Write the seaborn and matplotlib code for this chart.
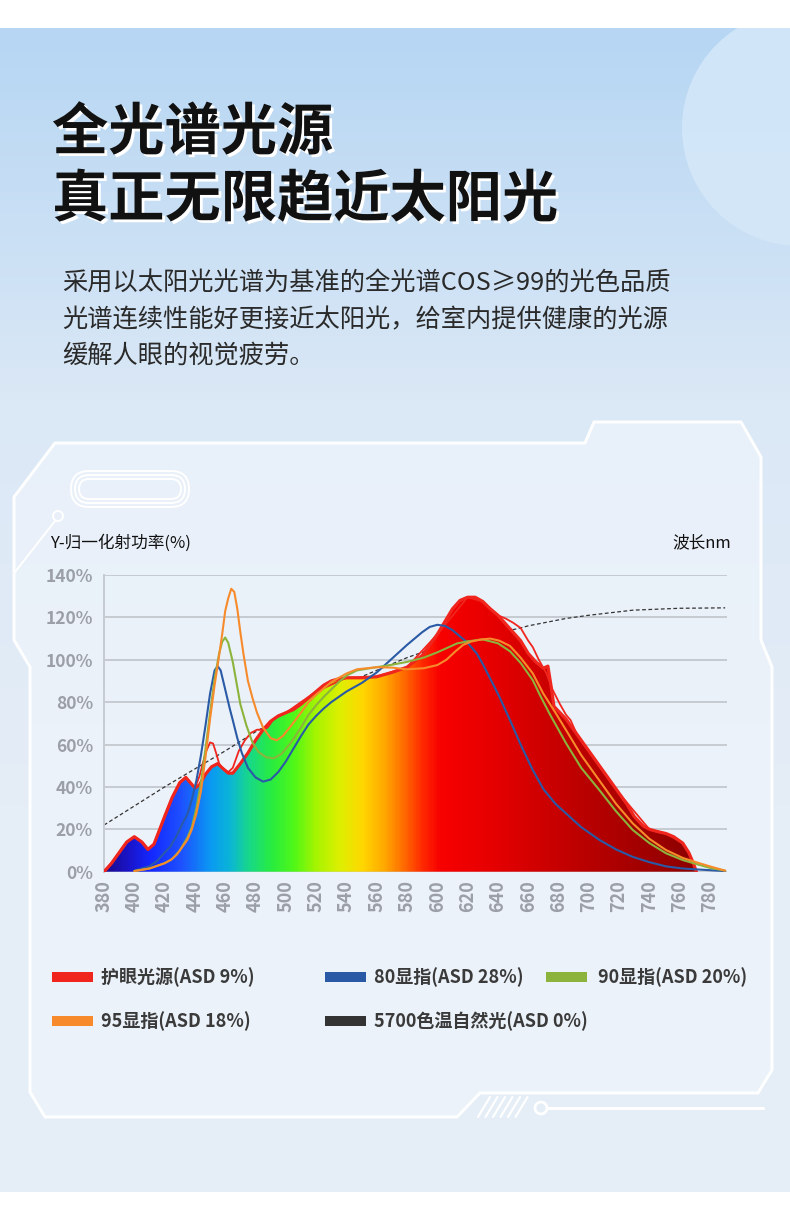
import numpy as np
import pandas as pd
import matplotlib
matplotlib.use("Agg")
import matplotlib.pyplot as plt
import matplotlib.patheffects as pe
import seaborn as sns
from matplotlib.patches import Polygon, Rectangle, Circle, FancyBboxPatch
from matplotlib.colors import LinearSegmentedColormap, to_rgb

# ---------------- data ----------------
title_lines = ["全光谱光源", "真正无限趋近太阳光"]
para_lines = ["采用以太阳光光谱为基准的全光谱COS≥99的光色品质",
              "光谱连续性能好更接近太阳光，给室内提供健康的光源",
              "缓解人眼的视觉疲劳。"]
y_label = "Y-归一化射功率(%)"
x_label = "波长nm"
legend_names = ["护眼光源(ASD 9%)", "80显指(ASD 28%)", "90显指(ASD 20%)",
                "95显指(ASD 18%)", "5700色温自然光(ASD 0%)"]
x_ticks = list(range(380, 781, 20))
y_ticks = list(range(0, 141, 20))

# 护眼光源 (filled spectrum)
eye_wl = [380, 385, 390, 395, 400, 405, 409, 413, 420, 425, 430, 434, 437, 440, 443, 447, 451, 455,
          458, 462, 465, 470, 475, 480, 485, 490, 495, 500, 505, 510, 515, 520, 525, 530, 535, 540,
          550, 560, 570, 580, 590, 595, 600, 605, 610, 615, 620, 625, 630, 635, 640, 645, 650, 655,
          660, 665, 670, 673, 675, 677, 681, 685, 690, 696, 700, 705, 712, 720, 725, 730, 736, 740,
          745, 751, 756, 762, 766, 769, 771]
eye_val = [0, 4, 9, 14, 16.5, 14, 10.5, 13, 26, 35, 42, 44.5, 42, 39.5, 41, 46, 49.5, 51,
           49, 46.5, 46.5, 51, 56, 62, 67, 71, 73.5, 75, 76.5, 79, 82, 85, 88, 90, 91, 91.5,
           91.5, 92, 94, 96.5, 102, 107, 112, 118, 124, 128, 129.5, 129.5, 127.5, 124, 121, 117, 113, 109,
           103, 99, 96, 97, 88, 78, 75, 72, 67, 61, 57, 52, 45, 37, 32, 26, 21.5, 20,
           19, 18, 16.5, 13.5, 9, 4, 0]

# 护眼光源 second (thin) outline
eye2_wl = [380, 385, 390, 395, 400, 405, 409, 413, 420, 425, 430, 434, 437, 440, 443, 447, 450, 452,
           454, 456, 458, 462, 465, 469, 473, 477, 481, 485, 488, 492, 500, 520, 540, 560, 580, 600,
           620, 630, 640, 645, 650, 655, 660, 663, 667, 672, 676, 681, 685, 688, 692, 700, 720, 740,
           751, 762, 766, 769, 771]
eye2_val = [0, 4, 9, 14, 16.5, 14, 10.5, 13, 26, 35, 42, 44.5, 42, 39.5, 45, 56, 61, 60.5,
            56, 51, 49, 47, 49, 57, 62, 65.5, 67, 67, 68, 72, 75, 85, 91.5, 92, 96.5, 112,
            129.5, 127.5, 121, 119.5, 117.5, 115, 109, 106, 100, 93.6, 86, 79, 74, 71.5, 65, 57, 37, 20,
            18, 13.5, 9, 4, 0]

# 80显指
cri80_wl = [400, 410, 415, 420, 424, 428, 432, 435, 438, 441, 444, 447, 450, 453, 455, 457, 460, 463,
            465, 468, 471, 475, 480, 485, 490, 495, 500, 505, 510, 515, 520, 525, 530, 540, 550, 560,
            570, 580, 590, 595, 600, 605, 610, 615, 620, 626, 630, 635, 641, 648, 655, 663, 670, 678,
            685, 695, 707, 718, 729, 740, 751, 762, 773, 790]
cri80_val = [0.5, 2.5, 5, 9, 12, 17, 23, 27, 34, 43, 55, 69, 84, 95, 97, 95, 86, 77,
             71.5, 63, 56, 49, 44.5, 42.5, 43.5, 47, 52, 58, 64, 69.5, 73.5, 77, 80, 85, 89, 94,
             100.5, 107, 113, 115.5, 116.5, 116, 114, 111, 108, 103, 98, 91, 82.5, 71.5, 60, 48, 39, 32,
             27.5, 21, 15, 10.5, 7, 4.5, 2.5, 1.5, 1, 0.3]

# 90显指
cri90_wl = [400, 410, 420, 425, 430, 435, 438, 441, 444, 447, 450, 453, 456, 458, 460, 462, 465, 468,
            470, 474, 478, 482, 487, 492, 497, 503, 510, 515, 520, 525, 530, 535, 540, 547, 560, 569,
            580, 591, 600, 613, 620, 630, 640, 648, 655, 663, 668, 674, 680, 685, 695, 707, 718, 729,
            740, 751, 762, 773, 780, 790]
cri90_val = [0.3, 1.5, 4, 6, 10, 16, 21, 30, 42, 58, 75, 91, 103, 108.5, 110.5, 108, 99, 87,
             79, 69, 61, 56.5, 54, 53.5, 55.5, 60.5, 68, 74, 78.5, 82.5, 86, 89.5, 92.5, 95, 96.5, 97.5,
             99, 101, 103.5, 107.7, 108.7, 109.6, 107.8, 104, 98.5, 90.4, 83, 74.7, 67, 60.6, 49, 38.5, 28.5, 19.7,
             13.5, 8.7, 5.5, 3.2, 1.8, 0.5]

# 95显指
cri95_wl = [400, 410, 420, 424, 428, 432, 435, 438, 441, 444, 447, 450, 453, 456, 458, 460, 462, 464,
            466, 468, 470, 472, 475, 478, 481, 485, 490, 494, 498, 503, 510, 515, 520, 525, 530, 540,
            547, 560, 570, 580, 591, 600, 606, 612, 617, 622, 628, 635, 641, 648, 655, 663, 670, 678,
            685, 695, 707, 718, 729, 740, 751, 762, 773, 780, 790]
cri95_val = [0.3, 1.5, 4, 5.5, 8, 12, 15, 20, 27.5, 38, 54, 72, 88, 102, 112, 123, 129, 133.5,
             132, 124, 113, 103, 90, 82, 75, 68, 63, 62, 64, 68.4, 75, 80, 83.5, 86.5, 89.5, 93.5,
             95.5, 96.5, 96.3, 95.5, 96, 97.5, 100, 104, 107, 108.5, 109.5, 110, 109, 106.5, 101, 93.6, 84, 75,
             66.8, 55, 43, 32, 22.8, 15.5, 10.2, 6.5, 4, 2.5, 0.5]

# 5700色温自然光
sun_wl = [380, 400, 420, 440, 460, 480, 500, 520, 540, 560, 580, 600, 620, 640, 652, 660, 685, 700,
          729, 760, 790]
sun_val = [22, 31, 40, 48.5, 57, 66, 74, 82, 89, 95, 101, 106, 110, 113, 114.5, 116, 119.5, 121,
           123.4, 124.3, 124.5]

# spectrum colour stops (wavelength, colour)
spec_wl = [380, 395, 410, 430, 450, 462, 475, 490, 505, 520, 535, 550, 565, 578, 590, 602, 640, 700, 771]
spec_col = ["#1a0a8c", "#1a14c8", "#1428ff", "#1e50ff", "#0a9af2", "#0ab4d8", "#18d88a", "#28ec40",
            "#50f818", "#a8f400", "#dcf000", "#ffd800", "#ffa800", "#ff6a00", "#ff2a00", "#f80000",
            "#e40000", "#b80000", "#8c0000"]

RED = "#f0261e"
BLUE = "#2a5aa6"
GREEN = "#8cb43c"
ORANGE = "#f78b2c"
DARK = "#333333"

# ---------------- figure ----------------
sns.set_theme(style="white")
plt.rcParams["font.family"] = ["Noto Sans CJK SC", "DejaVu Sans"]

W, H = 790, 1227
fig = plt.figure(figsize=(W / 100, H / 100), dpi=100)
bg = fig.add_axes([0, 0, 1, 1])
bg.set_xlim(0, W)
bg.set_ylim(H, 0)
bg.axis("off")

# background gradient
ys = np.linspace(0, 1, 256)
c_top = np.array(to_rgb("#b6d6f3"))
c_mid = np.array(to_rgb("#dbe8f6"))
c_bot = np.array(to_rgb("#e5edf7"))
grad = np.zeros((256, 1, 3))
for i, t in enumerate(ys):
    if t < 0.32:
        grad[i, 0] = c_top + (c_mid - c_top) * (t / 0.32)
    else:
        grad[i, 0] = c_mid + (c_bot - c_mid) * min(1, (t - 0.32) / 0.35)
bg.imshow(grad, extent=[0, W, 1192, 28], aspect="auto", zorder=0)
moon = Circle((800, 128), 118, facecolor="#d5e8f9", edgecolor="none", alpha=0.85, zorder=1)
bg.add_patch(moon)
bg.add_patch(Rectangle((0, 0), W, 28, facecolor="white", edgecolor="none", zorder=2))
bg.add_patch(Rectangle((0, 1192), W, 35, facecolor="white", edgecolor="none", zorder=2))

# panel frame
frame = [(55, 443), (585, 443), (594, 422), (741, 422), (761, 457), (761, 640), (772, 667),
         (772, 1070), (758, 1093), (480, 1093), (457, 1117), (45, 1117), (30, 1092), (30, 667),
         (14, 640), (14, 497)]
bg.add_patch(Polygon(frame, closed=True, facecolor="#f3f7fc", alpha=0.55, edgecolor="none", zorder=3))
bg.add_patch(Polygon(frame, closed=True, facecolor="none", edgecolor="white", linewidth=2.2,
                     alpha=0.95, zorder=4))
# decorations
for k, (w, h) in enumerate([(118, 36), (110, 28), (102, 20)]):
    bg.add_patch(FancyBboxPatch((130 - w / 2, 489 - h / 2), w, h,
                                boxstyle="round,pad=0,rounding_size=%d" % (h // 2),
                                facecolor="none", edgecolor="white", linewidth=1.4, zorder=4))
bg.add_patch(Circle((58, 516), 5, facecolor="none", edgecolor="white", linewidth=1.4, zorder=4))
bg.plot([55, 15], [521, 572], color="white", linewidth=1.4, zorder=4)
for k in range(6):
    x0 = 478 + k * 7.5
    bg.plot([x0, x0 + 12], [1117, 1097], color="white", linewidth=1.6, zorder=4)
bg.add_patch(Circle((541, 1108), 6, facecolor="none", edgecolor="white", linewidth=2, zorder=4))
bg.plot([548, 763], [1108, 1108], color="white", linewidth=2.2, zorder=4)

# title with white offset shadow
shadow = [pe.SimplePatchShadow(offset=(2, -2), shadow_rgbFace="white", alpha=1.0), pe.Normal()]
for line, yc in zip(title_lines, [133, 200]):
    bg.text(52, yc, line, fontsize=40.5, fontweight="black", color="#111111", va="center",
            ha="left", zorder=6, path_effects=shadow)
for line, yc in zip(para_lines, [283, 320, 356]):
    bg.text(62, yc, line, fontsize=18.2, color="#2a2a2a", va="center", ha="left", zorder=6,
            fontweight="light")

# axis captions
bg.text(50, 543, y_label, fontsize=12, color="#111111", va="center", ha="left", zorder=6,
        fontweight="medium")
bg.text(731, 543, x_label, fontsize=12, color="#111111", va="center", ha="right", zorder=6,
        fontweight="medium")

# legend
leg_colors = [RED, BLUE, GREEN, ORANGE, DARK]
leg_pos = [(52, 977, 101), (325, 977, 374), (546, 977, 598), (52, 1021, 101), (325, 1021, 374)]
for name, col, (lx, ly, tx) in zip(legend_names, leg_colors, leg_pos):
    bg.add_patch(Rectangle((lx, ly - 5), 41, 10, facecolor=col, edgecolor="none", zorder=6))
    bg.text(tx, ly, name, fontsize=13, color="#3a3a3a",
            va="center", ha="left", zorder=6, fontweight="bold")

# ---------------- chart axes ----------------
x_left, x_right = 104, 727
y_bot, y_top = 871.7, 575
ax = fig.add_axes([x_left / W, (H - y_bot) / H, (x_right - x_left) / W, (y_bot - y_top) / H])
ax.patch.set_alpha(0)
ax.set_xlim(380, 380 + (x_right - x_left) / 1.515)
ax.set_ylim(0, 140)

for v in y_ticks:
    ax.axhline(v, color="#c6cad1", linewidth=1.4, zorder=1)

# dashed daylight curve (behind the fill)
sns.lineplot(x=sun_wl, y=sun_val, ax=ax, color="#333333", linewidth=0.9, linestyle=(0, (3, 2)),
             zorder=2)

# spectrum fill with gradient
cmap = LinearSegmentedColormap.from_list(
    "spec", [((w - 380) / (771 - 380), c) for w, c in zip(spec_wl, spec_col)])
grad_x = np.linspace(0, 1, 600).reshape(1, -1)
im = ax.imshow(grad_x, cmap=cmap, extent=[380, 771, 0, 135], aspect="auto", zorder=3,
               interpolation="bilinear")
clip = Polygon(np.column_stack([eye_wl, eye_val]), closed=True, transform=ax.transData,
               facecolor="none", edgecolor="none")
ax.add_patch(clip)
im.set_clip_path(clip)

sns.lineplot(x=eye2_wl, y=eye2_val, ax=ax, color=RED, linewidth=1.3, zorder=4)
sns.lineplot(x=eye_wl, y=eye_val, ax=ax, color=RED, linewidth=2.3, zorder=5)
sns.lineplot(x=cri80_wl, y=cri80_val, ax=ax, color=BLUE, linewidth=1.5, zorder=6)
sns.lineplot(x=cri90_wl, y=cri90_val, ax=ax, color=GREEN, linewidth=1.5, zorder=6)
sns.lineplot(x=cri95_wl, y=cri95_val, ax=ax, color=ORANGE, linewidth=1.5, zorder=7)

ax.set_xticks(x_ticks)
ax.set_xticklabels([str(v) for v in x_ticks], rotation=90)
ax.set_yticks(y_ticks)
ax.set_yticklabels(["%d%%" % v for v in y_ticks])
ax.tick_params(axis="both", length=0, labelcolor="#9b9fa7")
ax.tick_params(axis="y", pad=8, labelsize=12.5)
ax.tick_params(axis="x", pad=6, labelsize=13)
for lab in ax.get_xticklabels() + ax.get_yticklabels():
    lab.set_fontweight("bold")
for s in ["top", "right", "bottom"]:
    ax.spines[s].set_visible(False)
ax.spines["left"].set_color("#c6cad1")
ax.spines["left"].set_linewidth(1.4)
ax.set_xlabel("")
ax.set_ylabel("")
ax.grid(False)

fig.savefig("out.png", dpi=100)
